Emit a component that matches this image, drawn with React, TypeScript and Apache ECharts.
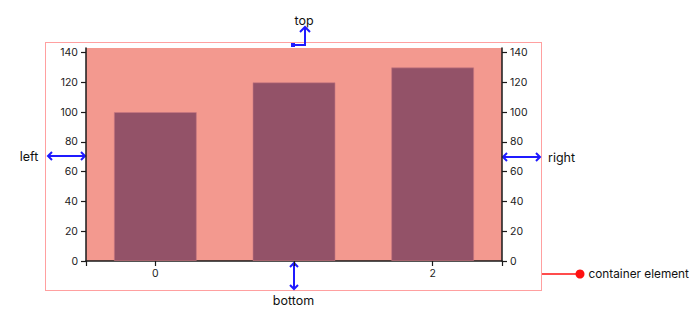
import React, { useEffect, useRef } from "react";
import * as echarts from "echarts";

const categories = [0, 1, 2];
const values = [100, 120, 130];
const yTicks = [0, 20, 40, 60, 80, 100, 120, 140];
const xTickLabels = [0, 2];
const xTickPositions = [-0.5, 0, 1, 2, 2.5];

const BLUE = "#1f1aff";
const RED = "#ff1010";
const FONT = "Inter, 'Noto Sans', sans-serif";

function txt(text: string, x: number, y: number, align: string, size = 12.5) {
  return {
    type: "text",
    x,
    y,
    silent: true,
    style: { text, align, verticalAlign: "middle", fontSize: size, fontFamily: FONT, fill: "#111" },
  };
}

function poly(points: number[][], color = BLUE, w = 2) {
  return {
    type: "polyline",
    silent: true,
    shape: { points },
    style: { stroke: color, lineWidth: w, fill: "none" },
  };
}

export default function App() {
  const ref = useRef<HTMLDivElement>(null);
  useEffect(() => {
    if (!ref.current) return;
    const chart = echarts.init(ref.current, null, { renderer: "svg" });
    const yAxisCommon = {
      type: "value",
      min: 0,
      max: 143,
      interval: 20,
      splitLine: { show: false },
      axisLine: { show: true, onZero: false, lineStyle: { color: "#1a1a1a", width: 1.5 } },
      axisTick: { show: true, length: 5, customValues: yTicks, lineStyle: { color: "#1a1a1a", width: 1.2 } },
      axisLabel: { customValues: yTicks, fontSize: 10.5, fontFamily: FONT, color: "#222", margin: 8 },
    };
    chart.setOption({
      animation: false,
      grid: {
        show: true,
        left: 86,
        right: 198,
        top: 48,
        bottom: 57,
        backgroundColor: "#f3998f",
        borderWidth: 0,
        containLabel: false,
      },
      xAxis: {
        type: "value",
        min: -0.5,
        max: 2.5,
        splitLine: { show: false },
        axisLine: { show: true, onZero: false, lineStyle: { color: "#1a1a1a", width: 1.5 } },
        axisTick: { show: true, length: 5, customValues: xTickPositions, lineStyle: { color: "#1a1a1a", width: 1.2 } },
        axisLabel: { customValues: xTickLabels, fontSize: 10.5, fontFamily: FONT, color: "#222", margin: 7 },
      },
      yAxis: [
        { ...yAxisCommon, position: "left" },
        { ...yAxisCommon, position: "right" },
      ],
      series: [
        {
          type: "bar",
          barWidth: 83,
          data: categories.map((c, i) => [c, values[i]]),
          itemStyle: { color: "#935268", borderColor: "rgba(200,120,130,0.6)", borderWidth: 1 },
        },
      ],
      graphic: [
        {
          type: "rect",
          silent: true,
          shape: { x: 45.5, y: 42.5, width: 496, height: 248 },
          style: { fill: "none", stroke: "#ff4040", lineWidth: 1, lineDash: [1, 1] },
        },
        // top
        txt("top", 304, 20, "center"),
        poly([[294, 45], [305, 45], [305, 27]]),
        poly([[300, 32], [305, 27], [310, 32]]),
        { type: "rect", silent: true, shape: { x: 291, y: 43, width: 4, height: 4 }, style: { fill: BLUE } },
        // left
        txt("left", 29, 156, "center"),
        poly([[48, 156], [85, 156]]),
        poly([[52, 152], [48, 156], [52, 160]]),
        poly([[81, 152], [85, 156], [81, 160]]),
        // right
        txt("right", 548, 157, "left"),
        poly([[503, 157], [540, 157]]),
        poly([[507, 153], [503, 157], [507, 161]]),
        poly([[536, 153], [540, 157], [536, 161]]),
        // bottom
        txt("bottom", 293.5, 300.5, "center"),
        poly([[294, 263], [294, 289]]),
        poly([[290, 267], [294, 263], [298, 267]]),
        poly([[290, 285], [294, 289], [298, 285]]),
        // container element
        poly([[542, 274], [580, 274]], RED, 1.5),
        { type: "circle", silent: true, shape: { cx: 580, cy: 274, r: 4.5 }, style: { fill: RED } },
        txt("container element", 588.5, 274, "left", 11.8),
      ],
    });
    return () => chart.dispose();
  }, []);
  return <div ref={ref} style={{ position: "absolute", left: 0, top: 0, width: 700, height: 318 }} />;
}
